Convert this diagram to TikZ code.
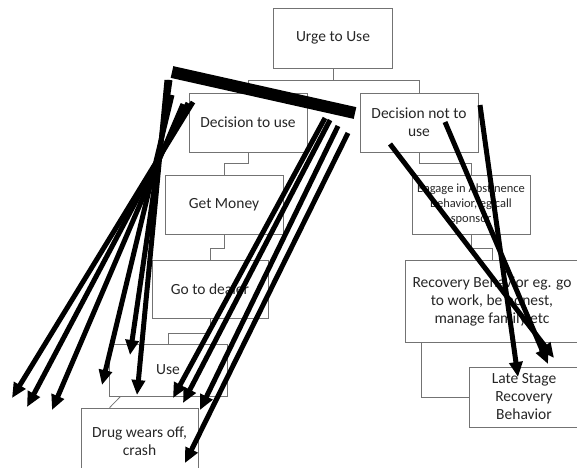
\documentclass[tikz,border=0pt]{standalone}
\usepackage{fontspec}
\setmainfont{Carlito}
\usetikzlibrary{arrows.meta,calc}

\tikzset{
  stagebox/.style={draw=black!55, line width=0.8pt, text=black!85, align=center,
    inner sep=2pt, font=\fontsize{15.5}{18}\selectfont},
  smallbox/.style={stagebox, font=\fontsize{12.5}{15}\selectfont},
  conn/.style={draw=black!55, line width=0.8pt},
  scrawl/.style={line width=5pt, -{Triangle[length=15pt,width=13pt]}},
}

\begin{document}
\begin{tikzpicture}[x=1pt, y=-1pt]
    \useasboundingbox (0,0) rectangle (577,467);

    % left column
    \node[stagebox, minimum width=119pt, minimum height=60pt] (urge)   at (333,38)    {Urge to Use};
    \node[stagebox, minimum width=118pt, minimum height=59pt] (dec)    at (248,122.5) {Decision to use};
    \node[stagebox, minimum width=118pt, minimum height=59pt] (money)  at (224,204.5) {Get Money};
    \node[stagebox, minimum width=116pt, minimum height=58pt] (dealer) at (210,289)   {Go to dealer};
    \node[stagebox, minimum width=118pt, minimum height=52pt] (use)    at (168,370)   {Use};
    \node[stagebox, minimum width=117pt, minimum height=66pt] (crash)  at (139.5,441) {Drug wears off,\\crash};

    % right column
    \node[stagebox, minimum width=118pt, minimum height=59pt] (decnot) at (419,122.5) {Decision not to\\use};
    \node[smallbox, minimum width=118pt, minimum height=59pt] (abst)   at (471,204.5) {Engage in Abstinence\\Behavior, eg call\\sponsor};
    \node[stagebox, minimum width=174pt, minimum height=82pt] (recov)  at (492,301)   {Recovery Behavior eg. go\\to work, be honest,\\manage family etc};
    \node[stagebox, minimum width=110pt, minimum height=60pt] (late)   at (524,397)   {Late Stage\\Recovery\\Behavior};

    % connectors
    \draw[conn] (urge.south) -- ++(0,12) -| (dec.north);
    \draw[conn] (urge.south) -- ++(0,12) -| (decnot.north);
    \draw[conn] (dec.south) -- ++(0,11) -| (money.north);
    \draw[conn] (money.south) -- ++(0,14) -| (dealer.north);
    \draw[conn] (dealer.south) -- ++(0,15) -| (use.north);
    \draw[conn] ($(use.south west)+(12,0)$) -- ($(crash.north west)+(29,0)$);
    \draw[conn] (decnot.south) -- ++(0,11) -| (abst.north);
    \draw[conn] (abst.south) -- ++(0,14) -| (recov.north);
    \draw[conn] ($(recov.south west)+(17,0)$) |- (late.west);

    % scribbled arrows
    \draw[line width=12pt] (172,72) -- (355,113);

    \draw[scrawl] (193,102) -- (12,398);
    \draw[scrawl] (188,103) -- (27,407);
    \draw[scrawl] (183,104) -- (52,410);
    \draw[scrawl] (172,95) -- (102,385);
    \draw[scrawl] (170,80) -- (130,355);
    \draw[scrawl] (167,80) -- (137,395);

    \draw[scrawl] (325,118) -- (173,398);
    \draw[scrawl] (330,120) -- (183,403);
    \draw[scrawl] (338,126) -- (200,410);
    \draw[scrawl] (348,133) -- (185,463);

    \draw[scrawl] (390,144) -- (554,358);
    \draw[scrawl] (445,122) -- (548,364);
    \draw[scrawl] (480,105) -- (518,377);
\end{tikzpicture}
\end{document}
